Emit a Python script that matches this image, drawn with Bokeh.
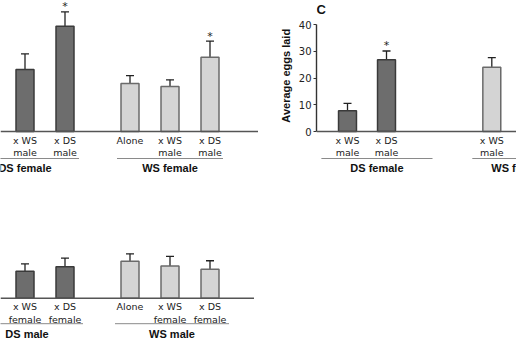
from bokeh.plotting import figure
from bokeh.models import Range1d, Span, Whisker, TeeHead, ColumnDataSource, FixedTicker, Label
from bokeh.layouts import column, row
from bokeh.embed import file_html
from bokeh.resources import INLINE
from bokeh.core.properties import value

# ---------------- data ----------------
# top-left panel (females)
a_groups = ["DS female", "WS female"]
a_labels = [["x WS\nmale", "x DS\nmale"], ["Alone", "x WS\nmale", "x DS\nmale"]]
a_means = [[23.2, 39.3], [17.9, 16.8, 27.8]]
a_errs = [[5.8, 5.4], [3.0, 2.5, 6.0]]
a_sig = [[False, True], [False, False, True]]

# panel C (average eggs laid)
c_title = "C"
c_groups = ["DS female", "WS female"]
c_labels = [["x WS\nmale", "x DS\nmale"], ["x WS\nmale"]]
c_means = [[7.8, 26.8], [24.0]]
c_errs = [[2.7, 3.3], [3.6]]
c_sig = [[False, True], [False]]
c_ticks = [0, 10, 20, 30, 40]
c_ylabel = "Average eggs laid"

# bottom-left panel (males)
b_groups = ["DS male", "WS male"]
b_labels = [["x WS\nfemale", "x DS\nfemale"], ["Alone", "x WS\nfemale", "x DS\nfemale"]]
b_means = [[10.1, 11.8], [13.8, 12.0, 10.8]]
b_errs = [[2.7, 3.2], [2.8, 3.6, 3.2]]
b_sig = [[False, False], [False, False, False]]

# ---------------- style / layout ----------------
DARK_FILL, DARK_LINE = "#6d6d6d", "#3a3a3a"
LIGHT_FILL, LIGHT_LINE = "#d4d4d4", "#6a6a6a"
fills = [DARK_FILL, LIGHT_FILL]
lines = [DARK_LINE, LIGHT_LINE]
PPU = 2.675  # pixels per y unit
LABEL_FONT = value("DejaVu Sans")
BOLD_FONT = value("Liberation Sans")


def make_fig(width, height, base_px, x_range, yaxis=False, left=0):
    y_top = base_px / PPU
    y_bot = -(height - base_px) / PPU
    p = figure(width=width, height=height, output_backend="svg", toolbar_location=None,
               x_range=Range1d(*x_range), y_range=Range1d(y_bot, y_top),
               x_axis_location=None, y_axis_location="left" if yaxis else None,
               min_border_left=left, min_border_right=0, min_border_top=0,
               min_border_bottom=0, outline_line_color=None,
               background_fill_color="white", border_fill_color="white")
    p.grid.visible = False
    p.add_layout(Span(location=0, dimension="width", line_color="#555", line_width=1.6))
    return p


def draw(p, positions, labels, means, errs, sig, groups, seps, bw, sep_off, grp_off):
    for g in range(len(groups)):
        up = [m + e for m, e in zip(means[g], errs[g])]
        lo = [m - e for m, e in zip(means[g], errs[g])]
        src = ColumnDataSource(dict(x=positions[g], top=means[g], upper=up, lower=lo,
                                    label=labels[g]))
        p.vbar(x="x", top="top", bottom=0, width=bw, source=src,
               fill_color=fills[g], line_color=lines[g], line_width=1.5)
        p.add_layout(Whisker(source=src, base="x", upper="upper", lower="lower",
                             dimension="height", line_color="#222", line_width=1.3,
                             upper_head=TeeHead(size=8, line_color="#222", line_width=1.3),
                             lower_head=TeeHead(size=8, line_color="#222", line_width=1.3)))
        p.text(x="x", y=0, text="label", source=src, y_offset=3, text_align="center",
               text_baseline="top", text_font=LABEL_FONT, text_font_size="9.5px",
               text_color="#222", text_line_height=1.15)
        sx = [x for x, s in zip(positions[g], sig[g]) if s]
        sy = [u for u, s in zip(up, sig[g]) if s]
        if sx:
            p.text(x=sx, y=sy, text=["*"] * len(sx), y_offset=-5, text_align="center",
                   text_baseline="alphabetic", text_font=LABEL_FONT,
                   text_font_size="11px", text_color="#222")
        y_sep = -sep_off / PPU
        p.segment(x0=[seps[g][0]], x1=[seps[g][1]], y0=[y_sep], y1=[y_sep],
                  line_color="#8a8a8a", line_width=1)
        p.text(x=[(seps[g][0] + seps[g][1]) / 2], y=[0], text=[groups[g]], y_offset=grp_off,
               text_align="center", text_baseline="middle", text_font=BOLD_FONT,
               text_font_style="bold", text_font_size="11px", text_color="#111")


# top-left
pos_ab = [[1, 2], [3.625, 4.625, 5.625]]
fa = make_fig(258, 175, 131, (0.3875, 6.8375))
draw(fa, pos_ab, a_labels, a_means, a_errs, a_sig, a_groups,
     [(-0.35, 2.35), (3.3, 5.95)], 0.45, 27, 36)

# panel C
pos_c = [[0, 1], [3.7]]
fc = make_fig(258, 175, 131, (-0.795, -0.795 + 200 / 39.0), yaxis=True, left=58)
draw(fc, pos_c, c_labels, c_means, c_errs, c_sig, c_groups,
     [(-0.67, 2.18), (3.2, 5.6)], 0.46, 27, 36)
ax = fc.yaxis[0]
ax.bounds = (0, 40)
ax.ticker = FixedTicker(ticks=c_ticks)
# leading no-break spaces lift the centred label to sit beside the 0-40 axis
ax.axis_label = "\u00a0" * 8 + c_ylabel
ax.axis_label_text_font = "Liberation Sans"
ax.axis_label_text_font_style = "bold"
ax.axis_label_text_font_size = "11px"
ax.axis_label_text_color = "#111"
ax.axis_label_standoff = 4
ax.major_label_text_font = "DejaVu Sans"
ax.major_label_text_font_size = "10px"
ax.major_label_text_color = "#222"
ax.major_label_standoff = 2
ax.major_tick_in = 0
ax.major_tick_out = 3
ax.minor_tick_out = 0
ax.minor_tick_in = 0
ax.axis_line_color = "#333"
ax.axis_line_width = 1.4
ax.major_tick_line_color = "#333"
fc.add_layout(Label(x=-0.795, y=131 / PPU, text=c_title, x_offset=0, y_offset=-1,
                    text_align="left", text_baseline="top", text_font="Liberation Sans",
                    text_font_size="13px", text_font_style="bold", text_color="#111"))

# bottom-left
fb = make_fig(254, 165, 122.7, (0.3875, 6.7375))
draw(fb, pos_ab, b_labels, b_means, b_errs, b_sig, b_groups,
     [(-0.35, 2.45), (3.25, 6.1)], 0.45, 25.5, 35.5)

layout = column(row(fa, fc), fb)
open("out.html", "w").write(file_html(layout, INLINE))
